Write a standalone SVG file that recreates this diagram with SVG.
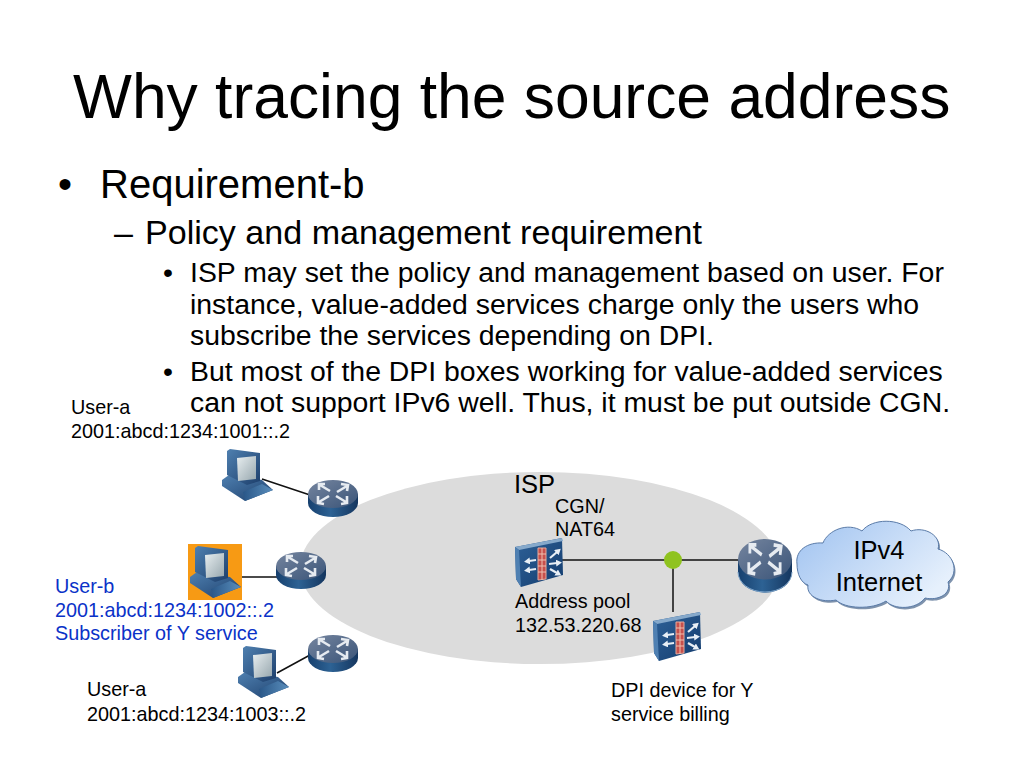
<svg xmlns="http://www.w3.org/2000/svg" width="1024" height="768" viewBox="0 0 1024 768">
<style>
text{font-family:"Liberation Sans",Arial,sans-serif;fill:#000}
.t1{font-size:40px}.t2{font-size:34.100px}.t3{font-size:28.400px}.s{font-size:19.800px}.b{fill:#0a32c8}.m{font-size:25.500px}
.c{stroke:#111;stroke-width:1.5;fill:none}
.arw{fill:none;stroke:#e6ebf1;stroke-width:2.600}
.arf{fill:none;stroke:#e8eff6;stroke-width:2.200;marker-end:url(#ah)}
</style>
<defs>
<marker id="ah" markerUnits="userSpaceOnUse" markerWidth="7" markerHeight="7" refX="1" refY="3.500" orient="auto"><path d="M0 0 6 3.500 0 7Z" fill="#e8eff6"/></marker>
<linearGradient id="rt" x1="0" y1="0" x2="1" y2="1"><stop offset="0" stop-color="#75859f"/><stop offset="1" stop-color="#3a5478"/></linearGradient>
<linearGradient id="rs" x1="0" y1="0" x2="1" y2="0"><stop offset="0" stop-color="#17406e"/><stop offset=".45" stop-color="#2d6294"/><stop offset="1" stop-color="#15365f"/></linearGradient>
<linearGradient id="cl" x1="0" y1="0" x2="1" y2=".6"><stop offset="0" stop-color="#9fc2f0"/><stop offset="1" stop-color="#e6f0fc"/></linearGradient>
<linearGradient id="fw" x1="0" y1="0" x2="1" y2="1"><stop offset="0" stop-color="#2f6299"/><stop offset="1" stop-color="#133c6e"/></linearGradient>
<linearGradient id="pc" x1="0" y1="0" x2="1" y2="1"><stop offset="0" stop-color="#4f80b0"/><stop offset="1" stop-color="#1d3f6c"/></linearGradient>
<linearGradient id="pk" x1="0" y1="0" x2="1" y2="0"><stop offset="0" stop-color="#2a5788"/><stop offset="1" stop-color="#5a8ebc"/></linearGradient>
<linearGradient id="sc" x1="0" y1="0" x2="1" y2="1"><stop offset="0" stop-color="#e8eef0"/><stop offset="1" stop-color="#97a7ae"/></linearGradient>
<g id="router">
<path d="M0 14V23A25 14 0 0 0 50 23V14Z" fill="url(#rs)"/>
<ellipse cx="25" cy="14" rx="25" ry="14" fill="url(#rt)"/>
<g class="arw">
<path d="M22 11 12 5M11 10 11 4 17 4"/><path d="M29 12 39 6M33 4 40 5 39 11"/>
<path d="M21 16 11 22M10 16 10 23 16 24"/><path d="M28 16 38 22M39 16 39 23 33 24"/>
</g>
</g>
<g id="fire">
<path d="M0 9 47 0 48 37 6 49 1 41Z" fill="url(#fw)"/>
<path d="M0 9 47 0 48 3 4 12Z" fill="#86a9cb"/><path d="M0 9 4 12 6 49 1 41Z" fill="#4f80b2"/>
<path d="M23 10h8v31l-8 1Z" fill="#c7504c" stroke="#e6a89a" stroke-width="1"/>
<path d="M23 16h8M23 22h8M23 28h8M23 34h8M27 10v32" stroke="#eec0b0" stroke-width="1" fill="none"/>
<path class="arf" d="M21 22 14 23"/><path class="arf" d="M21 31 14 32"/><path class="arf" d="M35 20 42 14"/><path class="arf" d="M34 26 42 25"/><path class="arf" d="M35 31 42 35"/>
</g>
<g id="comp">
<path d="M0 32 7 27 40 32 51 42 23 53 0 38Z" fill="url(#pc)"/>
<path d="M21 44 40 36 51 42 23 53Z" fill="url(#pk)"/>
<path d="M5 3 8 1 38 5 38 33 25 37 5 27Z" fill="url(#pc)"/>
<path d="M15 10 34 8 34 31 16 33Z" fill="url(#sc)"/>
</g>
</defs>
<text id="title" x="73" y="118" font-size="62.400">Why tracing the source address</text>
<g id="bullets">
<text class="t1" x="58" y="198">•</text><text class="t1" x="100" y="198">Requirement-b</text>
<text class="t2" x="114" y="244">–</text><text class="t2" x="145" y="244">Policy and management requirement</text>
<text class="t3" x="163" y="282">•</text>
<text class="t3" x="190" y="282">ISP may set the policy and management based on user. For</text>
<text class="t3" x="190" y="314">instance, value-added services charge only the users who</text>
<text class="t3" x="190" y="345">subscribe the services depending on DPI.</text>
<text class="t3" x="163" y="381">•</text>
<text class="t3" x="190" y="381">But most of the DPI boxes working for value-added services</text>
<text class="t3" x="190" y="412">can not support IPv6 well. Thus, it must be put outside CGN.</text>
</g>
<ellipse id="isp-area" cx="540" cy="568" rx="240" ry="96" fill="#dcdcdc"/>
<g id="connectors">
<path class="c" d="M262 479 310 495M242 577H277M277 673 310 655M562 560H740M673 560V612"/>
</g>
<g id="user-a1"><use href="#comp" x="222" y="448"/><text class="s" x="71" y="414">User-a</text><text class="s" x="71" y="438">2001:abcd:1234:1001::.2</text></g>
<g id="router-1"><use href="#router" x="308" y="480"/></g>
<g id="user-b"><rect x="188" y="544" width="54" height="56" fill="#f79a14"/><use href="#comp" x="190" y="545"/>
<text class="s b" x="55" y="593">User-b</text><text class="s b" x="55" y="617">2001:abcd:1234:1002::.2</text><text class="s b" x="55" y="640">Subscriber of Y service</text></g>
<g id="router-2"><use href="#router" x="276" y="552"/></g>
<g id="user-a2"><use href="#comp" x="238" y="645"/><text class="s" x="87" y="696">User-a</text><text class="s" x="87" y="721">2001:abcd:1234:1003::.2</text></g>
<g id="router-3"><use href="#router" x="308" y="635"/></g>
<g id="isp-label"><text class="m" x="514" y="493">ISP</text></g>
<g id="cgn"><use href="#fire" x="515" y="538"/><text class="s" x="555" y="513">CGN/</text><text class="s" x="555" y="536">NAT64</text><text class="s" x="515" y="608">Address pool</text><text class="s" x="515" y="632">132.53.220.68</text></g>
<g id="junction"><circle cx="673" cy="560" r="9" fill="#8fc31f"/></g>
<g id="dpi"><use href="#fire" x="653" y="612"/><text class="s" x="611" y="697">DPI device for Y</text><text class="s" x="611" y="721">service billing</text></g>
<g id="router-4"><use href="#router" transform="translate(738 539) scale(1.08 1.450)"/><path d="M738 572A27 20 0 0 0 792 572" fill="none" stroke="#7fa6cc" stroke-width="1"/></g>
<g id="internet">
<path d="M797 564C795 550 808 542 823 543C828 530 848 522 862 531C872 518 900 518 911 531C925 526 942 536 938 549C953 553 960 572 948 582C952 594 938 601 925 598C916 610 894 610 886 601C872 610 845 609 836 600C822 603 806 597 808 585C801 583 797 574 797 564Z" fill="#7f93ad" transform="translate(1.500 2)"/>
<path d="M797 564C795 550 808 542 823 543C828 530 848 522 862 531C872 518 900 518 911 531C925 526 942 536 938 549C953 553 960 572 948 582C952 594 938 601 925 598C916 610 894 610 886 601C872 610 845 609 836 600C822 603 806 597 808 585C801 583 797 574 797 564Z" fill="url(#cl)" stroke="#5a7ba8" stroke-width="1"/>
<text class="m" x="879" y="559" text-anchor="middle">IPv4</text><text class="m" x="879" y="591" text-anchor="middle">Internet</text>
</g>
</svg>
